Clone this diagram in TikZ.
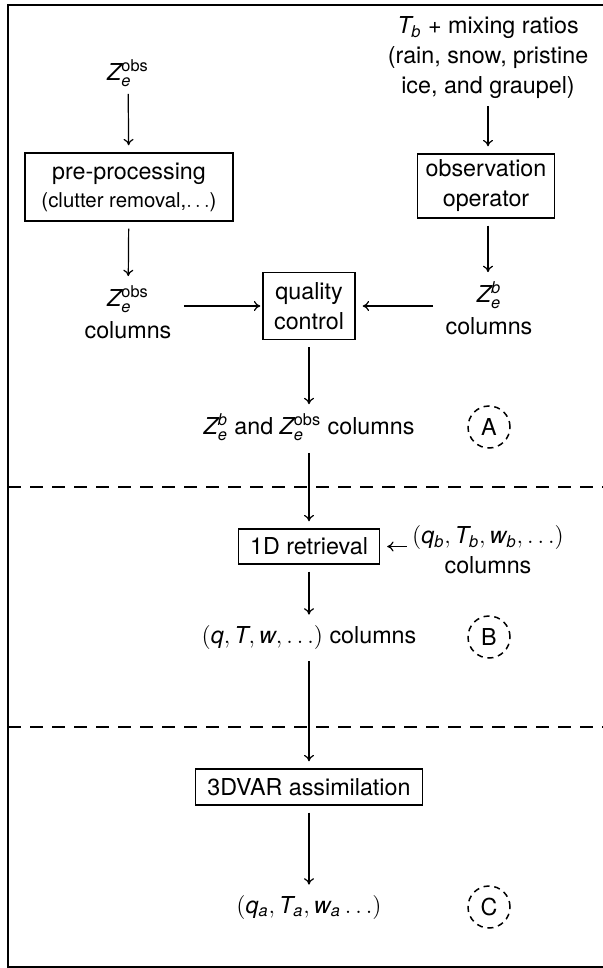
\documentclass[tikz,border=0pt]{standalone}
\usepackage{amsmath}
\usepackage{fontspec}
\setmainfont{TeX Gyre Heros}
\usetikzlibrary{arrows.meta}
\newcommand{\vi}[1]{\mathit{#1}}
\newcommand{\Zobs}{$\vi{Z}_{\vi{e}}^{\mathrm{obs}}$}
\newcommand{\Zb}{$\vi{Z}_{\vi{e}}^{\vi{b}}$}
\begin{document}
\begin{tikzpicture}[x=0.5pt, y=-0.5pt,
  every node/.style={font=\fontsize{11.65}{15}\selectfont},
  txt/.style={inner sep=0pt, align=center},
  stepbox/.style={draw, line width=0.7pt, inner sep=0pt, align=center},
  flow/.style={-{To[length=3.2pt,width=5pt]}, line width=0.6pt},
  region/.style={draw, dash pattern=on 3pt off 2.4pt, line width=0.75pt,
    circle, minimum size=21pt, inner sep=0pt},
  divider/.style={dash pattern=on 6.5pt off 4.5pt, line width=0.9pt}]
\clip (0,0) rectangle (603,968);

% outer frame
\draw[line width=0.9pt] (8,5) rectangle (612,967);

% inputs
\node[txt] (zobs) at (128,73) {\Zobs};
\node[txt] (tbmix) at (488,58) {$\vi{T}_{\vi{b}}$ + mixing ratios\\(rain, snow, pristine\\ice, and graupel)};

% processing boxes
\node[stepbox, minimum width=104pt, minimum height=34pt] (pre) at (129,187)
  {pre-processing\\[-1pt]{\fontsize{10.2}{13}\selectfont (clutter removal,$\ldots$)}};
\node[stepbox, minimum width=68.5pt, minimum height=32pt] (obsop) at (486,186)
  {observation\\operator};

% column products
\node[txt] (zobscol) at (128,312) {\Zobs\\[1pt]columns};
\node[txt] (zbcol) at (489,308) {\Zb\\[1pt]columns};
\node[stepbox, minimum width=46pt, minimum height=33.5pt] (qc) at (309,306)
  {quality\\control};
\node[txt] (both) at (309,427) {\Zb{} and \Zobs{} columns};
\node[region] (ca) at (489,427) {A};

\draw[divider] (8,487) -- (603,487);

% 1D retrieval stage
\node[stepbox, minimum width=70.5pt, minimum height=17.5pt] (ret) at (309,546.5) {1D retrieval};
\node[txt] (qbcol) at (488,550) {$(\vi{q}_{\vi{b}}, \vi{T}_{\vi{b}}, \vi{w}_{\vi{b}}, \ldots)$\\columns};
\node[txt] (qtw) at (309,637) {$(\vi{q}, \vi{T}, \vi{w}, \ldots)$ columns};
\node[region] (cb) at (489,637) {B};

\draw[divider] (8,727) -- (603,727);

% 3DVAR stage
\node[stepbox, minimum width=113.5pt, minimum height=18pt] (var) at (309,787) {3DVAR assimilation};
\node[txt] (qa) at (309,907) {$(\vi{q}_{\vi{a}}, \vi{T}_{\vi{a}}, \vi{w}_{\vi{a}}\ldots)$};
\node[region] (cc) at (489,907) {C};

% connectors
\draw[flow, shorten <=3.5pt, shorten >=3.5pt] (zobs) -- (pre);
\draw[flow, shorten <=3.5pt, shorten >=3.5pt] (tbmix) -- (tbmix |- obsop.north);
\draw[flow, shorten <=3.5pt, shorten >=4.5pt] (pre) -- (zobscol);
\draw[flow, shorten <=3.5pt, shorten >=4.5pt] (tbmix |- obsop.south) -- (tbmix |- zbcol.north);
\draw[flow, shorten <=6pt, shorten >=1pt] (zobscol.east |- qc.west) -- (qc.west);
\draw[flow, shorten <=6pt, shorten >=3.5pt] (zbcol.west |- qc.east) -- (qc.east);
\draw[flow, shorten <=3.5pt, shorten >=4.5pt] (qc) -- (qc |- both.north);
\draw[flow, shorten <=6pt, shorten >=3.5pt] (qc |- both.south) -- (qc |- ret.north);
\draw[flow, shorten <=2.5pt, shorten >=3.5pt] (qbcol.west |- ret.east) -- (ret.east);
\draw[flow, shorten <=3.5pt, shorten >=5pt] (ret) -- (qc |- qtw.north);
\draw[flow, shorten <=6pt, shorten >=3.5pt] (qc |- qtw.south) -- (qc |- var.north);
\draw[flow, shorten <=3.5pt, shorten >=5pt] (var) -- (qc |- qa.north);
\end{tikzpicture}
\end{document}
